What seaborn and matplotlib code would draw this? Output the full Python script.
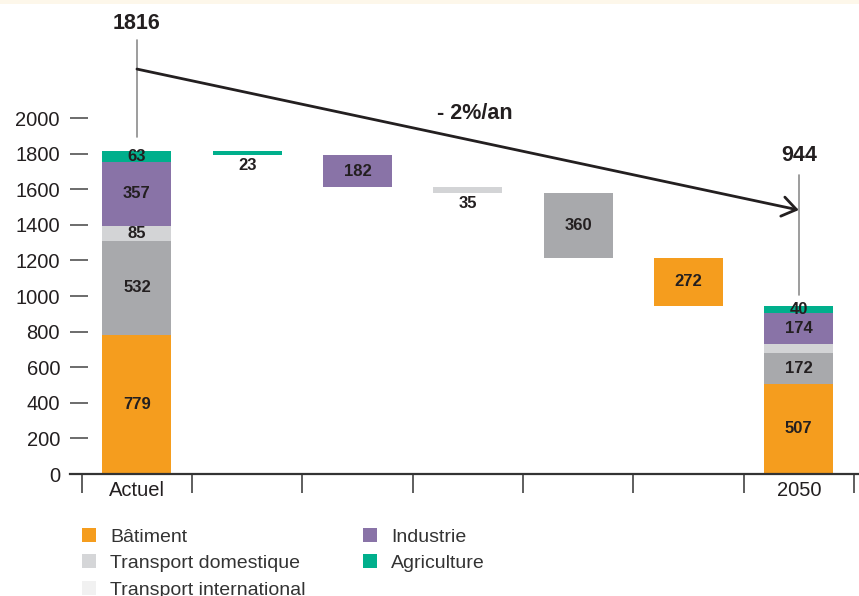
import numpy as np
import matplotlib
matplotlib.use("Agg")
import matplotlib.pyplot as plt
from matplotlib.patches import Patch, Rectangle
import seaborn as sns

# Consommation d'energie par secteur : Actuel -> 2050 (graphique en cascade)
categories = ["Actuel", "Agriculture", "Industrie", "Transport international",
              "Transport domestique", "Bâtiment", "2050"]
tick_labels = ["Actuel", "", "", "", "", "", "2050"]

sectors = ["Bâtiment", "Transport domestique", "Transport international",
           "Industrie", "Agriculture"]
actuel = [779, 532, 85, 357, 63]
baisse = [272, 360, 35, 182, 23]
an_2050 = [507, 172, 51, 174, 40]
labels_2050 = ["507", "172", "", "174", "40"]
step_order = ["Agriculture", "Industrie", "Transport international",
              "Transport domestique", "Bâtiment"]
taux = "- 2%/an"
y_ticks = [0, 200, 400, 600, 800, 1000, 1200, 1400, 1600, 1800, 2000]

bar_colors = {"Bâtiment": "#F59D1E", "Transport domestique": "#A8A9AC",
              "Transport international": "#D3D4D6", "Industrie": "#8973A7",
              "Agriculture": "#00AF8C"}
legend_colors = {"Bâtiment": "#F59D1E", "Transport domestique": "#D5D6D8",
                 "Transport international": "#F1F1F1", "Industrie": "#8973A7",
                 "Agriculture": "#00AF8C"}
dark = "#231F20"

# hauteurs et bases de chaque segment
n = len(categories)
heights = {s: np.zeros(n) for s in sectors}
bottoms = {s: np.zeros(n) for s in sectors}
base = 0
for s, v in zip(sectors, actuel):
    heights[s][0] = v
    bottoms[s][0] = base
    base += v
total_actuel = base
level = total_actuel
for s in step_order:
    i = categories.index(s)
    v = baisse[sectors.index(s)]
    level -= v
    heights[s][i] = v
    bottoms[s][i] = level
base = 0
for s, v in zip(sectors, an_2050):
    heights[s][n - 1] = v
    bottoms[s][n - 1] = base
    base += v
total_2050 = base

sns.set_theme(style="white")
plt.rcParams["font.family"] = ["Liberation Sans", "DejaVu Sans"]

fig = plt.figure(figsize=(8.59, 5.96), dpi=100)
ax = fig.add_axes([70 / 859, 122 / 596, 789 / 859, 474 / 596])
ax.set_facecolor("none")

for s in sectors:
    sns.barplot(x=categories, y=heights[s], order=categories, color=bar_colors[s],
                width=0.625, bottom=bottoms[s], errorbar=None, linewidth=0,
                saturation=1, ax=ax)

# etiquettes des segments
lab_kw = dict(ha="center", va="center", fontsize=12, fontweight="bold", color=dark)
for j, s in enumerate(sectors):
    ax.text(0, bottoms[s][0] + actuel[j] / 2, str(actuel[j]), **lab_kw)
    if labels_2050[j]:
        ax.text(n - 1, bottoms[s][n - 1] + an_2050[j] / 2, labels_2050[j], **lab_kw)
for s in step_order:
    i = categories.index(s)
    v = baisse[sectors.index(s)]
    if v < 50:
        ax.annotate(str(v), xy=(i, bottoms[s][i]), xytext=(0, -7.5),
                    textcoords="offset points", **lab_kw)
    else:
        ax.text(i, bottoms[s][i] + v / 2, str(v), **lab_kw)

# totaux et tendance
ax.plot([0, 0], [1893, 2438], color="#8C8C8C", lw=1.2, clip_on=False)
ax.plot([n - 1, n - 1], [1006, 1680], color="#8C8C8C", lw=1.2)
ax.text(0, 2530, str(total_actuel), ha="center", va="center", fontsize=15.5,
        fontweight="bold", color=dark)
ax.text(n - 1, 1792, str(total_2050), ha="center", va="center", fontsize=15.5,
        fontweight="bold", color=dark)
ax.annotate("", xy=(n - 1, 1483), xytext=(0, 2275),
            arrowprops=dict(arrowstyle="->,head_length=0.5,head_width=0.35",
                            mutation_scale=20, lw=2, color=dark,
                            shrinkA=0, shrinkB=0))
ax.text(3.06, 2028, taux, ha="center", va="center", fontsize=15.5,
        fontweight="bold", color=dark)

# axes
ax.set_xlim(-0.607, 6.546)
ax.set_ylim(0, 2663)
ax.set_xlabel("")
ax.set_ylabel("")
ax.set_xticks(np.arange(-0.5, n, 1.0), labels=[""] * (n + 1))
ax.set_xticks(range(n), minor=True)
ax.set_xticklabels(tick_labels, minor=True)
ax.tick_params(axis="x", which="major", direction="out", length=13.5, width=1.1,
               color="#333333", bottom=True)
ax.tick_params(axis="x", which="minor", length=0, pad=5, labelsize=14.5,
               labelcolor=dark, bottom=True)
ax.set_yticks(y_ticks)
ax.tick_params(axis="y", direction="in", length=13, width=1.1, color="#444444",
               pad=7.2, labelsize=14.5, labelcolor=dark, left=True)
for side in ["top", "right", "left"]:
    ax.spines[side].set_visible(False)
ax.spines["bottom"].set_color("#333333")
ax.spines["bottom"].set_linewidth(1.6)

# legende
handles = [Patch(facecolor=legend_colors[s], edgecolor="none") for s in sectors]
fig.legend(handles, sectors, ncol=2, loc="upper left",
           bbox_to_anchor=(82 / 859, 1 - 528 / 596), frameon=False, fontsize=14,
           handlelength=0.72, handleheight=0.72, handletextpad=0.72,
           labelspacing=0.45, columnspacing=2.95, borderpad=0, borderaxespad=0,
           labelcolor="#333333")

# bandeau clair en haut
fig.patches.append(Rectangle((0, 1 - 4 / 596), 1, 4 / 596, transform=fig.transFigure,
                             facecolor="#FDF7EA", edgecolor="none"))

fig.savefig("out.png", dpi=100)
